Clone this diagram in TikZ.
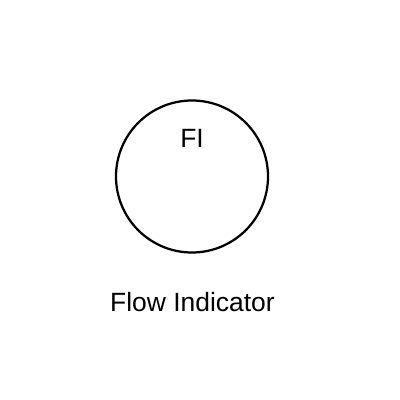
\documentclass[tikz,border=0pt]{standalone}
\usepackage{fontspec}
\setmainfont{Liberation Sans}
\begin{document}
\begin{tikzpicture}[x=0.025cm,y=-0.025cm,
  lbl/.style={inner sep=0pt,anchor=base,font=\fontsize{18.8}{22}\selectfont},
  ring/.style={circle,draw=black,line width=1.6pt,minimum size=152*0.025cm,inner sep=0pt}]
\useasboundingbox (0,0) rectangle (400,400);
\node[ring] (fi) at (192,176.5) {};
\node[lbl] (tag) at (192,148) {FI};
\node[lbl] (name) at (192.5,311) {Flow Indicator};
\end{tikzpicture}
\end{document}
